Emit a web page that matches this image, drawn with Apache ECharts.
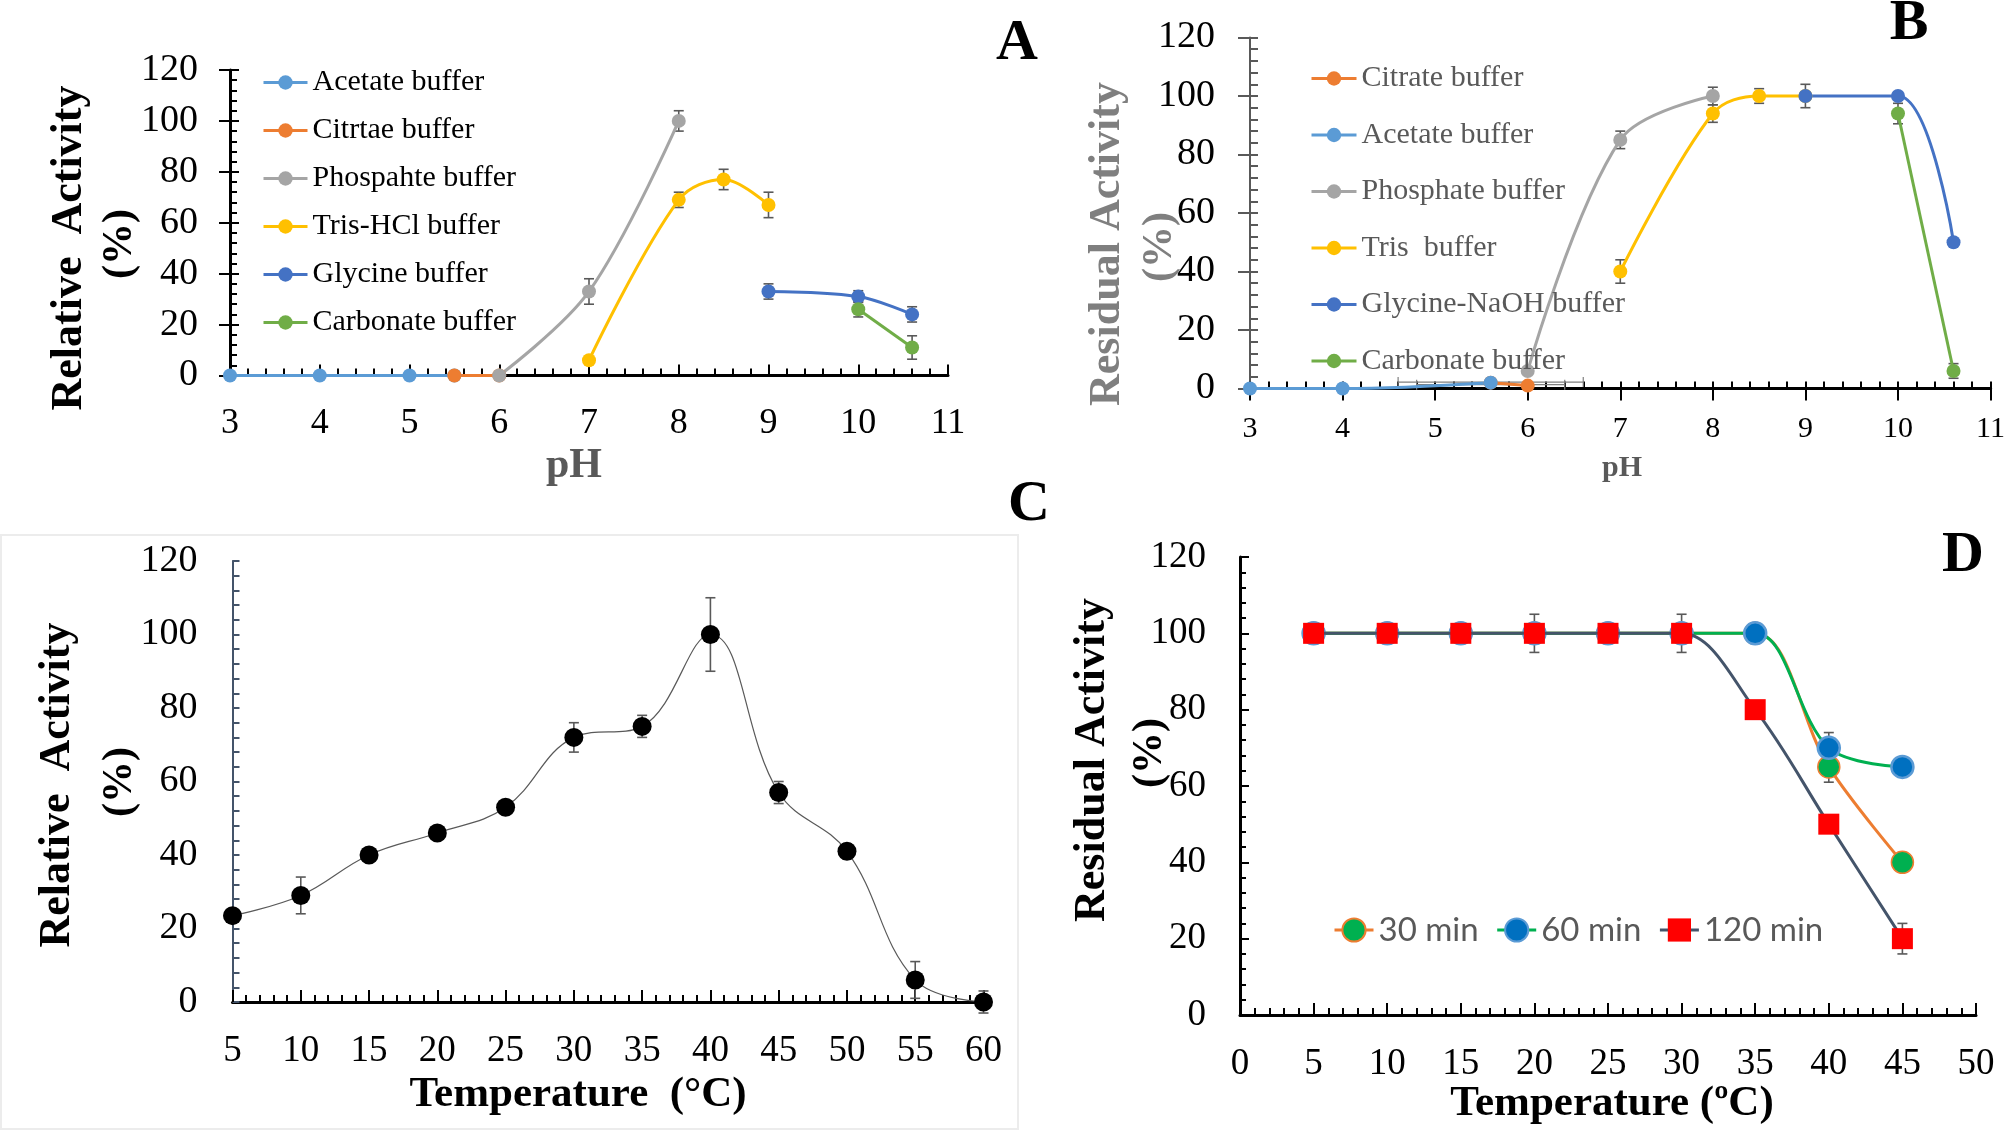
<!DOCTYPE html>
<html>
<head>
<meta charset="utf-8">
<script src="https://cdn.jsdelivr.net/npm/echarts@6/dist/echarts.min.js"></script>
<style>html,body{margin:0;padding:0;background:#fff;}#main{width:2008px;height:1132px;}</style>
</head>
<body>
<div id="main"></div>
<script>
// ---------- Panel A : pH optimum (Relative activity) ----------
const A_acetate_pH = [3, 4, 5, 5.5];
const A_acetate_act = [0, 0, 0, 0];
const A_citrate_pH = [5.5, 6];
const A_citrate_act = [0, 0];
const A_phosphate_pH = [6, 7, 8];
const A_phosphate_act = [0, 33, 100];
const A_phosphate_err = [0, 5, 4];
const A_tris_pH = [7, 8, 8.5, 9];
const A_tris_act = [6, 69, 77, 67];
const A_tris_err = [0, 3, 4, 5];
const A_glycine_pH = [9, 10, 10.6];
const A_glycine_act = [33, 31, 24];
const A_glycine_err = [3, 2.3, 3];
const A_carbonate_pH = [10, 10.6];
const A_carbonate_act = [26, 11];
const A_carbonate_err = [3, 4.6];
const A_legend = ['Acetate buffer', 'Citrtae buffer', 'Phospahte buffer', 'Tris-HCl buffer', 'Glycine buffer', 'Carbonate buffer'];

// ---------- Panel B : pH stability (Residual activity) ----------
const B_citrate_pH = [5.6, 6];
const B_citrate_act = [2, 1];
const B_acetate_pH = [3, 4, 5.6];
const B_acetate_act = [0, 0, 2];
const B_phosphate_pH = [6, 7, 8];
const B_phosphate_act = [6, 85, 100];
const B_phosphate_err = [0, 3, 3];
const B_tris_pH = [7, 8, 8.5, 9];
const B_tris_act = [40, 94, 100, 100];
const B_tris_err = [4, 3, 2.5, 0];
const B_glycine_pH = [9, 10, 10.6];
const B_glycine_act = [100, 100, 50];
const B_glycine_err = [4, 1, 0];
const B_carbonate_pH = [10, 10.6];
const B_carbonate_act = [94, 6];
const B_carbonate_err = [3.5, 2.5];
const B_hbar_pH = [5.6, 5.6];
const B_hbar_act = [2.2, 1.3];
const B_hbar_err = [1.0, 0.8];
const B_legend = ['Citrate buffer', 'Acetate buffer', 'Phosphate buffer', 'Tris  buffer', 'Glycine-NaOH buffer', 'Carbonate buffer'];

// ---------- Panel C : temperature optimum ----------
const C_temp = [5, 10, 15, 20, 25, 30, 35, 40, 45, 50, 55, 60];
const C_act = [23.5, 29, 40, 46, 53, 72, 75, 100, 57, 41, 6, 0];
const C_err = [0, 5, 0, 0, 0, 4, 3, 10, 3, 2, 5, 3];

// ---------- Panel D : thermal stability ----------
const D_temp = [5, 10, 15, 20, 25, 30, 35, 40, 45];
const D_30 = [100, 100, 100, 100, 100, 100, 100, 65, 40];
const D_60 = [100, 100, 100, 100, 100, 100, 100, 70, 65];
const D_120 = [100, 100, 100, 100, 100, 100, 80, 50, 20];
const D_30_err = [0, 0, 0, 0, 0, 0, 0, 4, 2.5];
const D_60_err = [0, 0, 0, 0, 0, 0, 2, 4, 1];
const D_120_err = [1.5, 1.5, 1.5, 5, 1.5, 5, 2, 1.5, 4];
const D_legend = ['30 min', '60 min', '120 min'];

const SERIF = 'Liberation Serif';
const pairs = (xs, ys) => xs.map((x, i) => [x, ys[i]]);
const triples = (xs, ys, es) => xs.map((x, i) => [x, ys[i], es[i]]);

function errSeries(xi, yi, data, color, cap) {
  return {
    type: 'custom', coordinateSystem: 'cartesian2d', xAxisIndex: xi, yAxisIndex: yi, z: 1, silent: true,
    data: data,
    renderItem: function (params, api) {
      const x = api.value(0), y = api.value(1), e = api.value(2);
      if (!e) return null;
      const t = api.coord([x, y + e]), b = api.coord([x, y - e]);
      const st = { stroke: color, lineWidth: 1.6 };
      return { type: 'group', children: [
        { type: 'line', shape: { x1: t[0], y1: t[1], x2: b[0], y2: b[1] }, style: st },
        { type: 'line', shape: { x1: t[0] - cap, y1: t[1], x2: t[0] + cap, y2: t[1] }, style: st },
        { type: 'line', shape: { x1: b[0] - cap, y1: b[1], x2: b[0] + cap, y2: b[1] }, style: st }
      ]};
    }
  };
}
function hErrSeries(xi, yi, data, color, cap) {
  return {
    type: 'custom', coordinateSystem: 'cartesian2d', xAxisIndex: xi, yAxisIndex: yi, z: 1, silent: true,
    data: data,
    renderItem: function (params, api) {
      const x = api.value(0), y = api.value(1), e = api.value(2);
      const l = api.coord([x - e, y]), r = api.coord([x + e, y]);
      const st = { stroke: color, lineWidth: 1.2 };
      return { type: 'group', children: [
        { type: 'line', shape: { x1: l[0], y1: l[1], x2: r[0], y2: r[1] }, style: st },
        { type: 'line', shape: { x1: l[0], y1: l[1] - cap, x2: l[0], y2: l[1] + cap }, style: st },
        { type: 'line', shape: { x1: r[0], y1: r[1] - cap, x2: r[0], y2: r[1] + cap }, style: st }
      ]};
    }
  };
}
function lineSeries(name, xi, yi, data, color, size, smooth, width) {
  return {
    name: name, type: 'line', xAxisIndex: xi, yAxisIndex: yi, data: data, z: 3,
    smooth: smooth, smoothConstraint: false, symbol: 'circle', symbolSize: size, clip: false,
    lineStyle: { color: color, width: width },
    itemStyle: { color: color },
    emphasis: { disabled: true }
  };
}

const colA = { acetate: '#5B9BD5', citrate: '#ED7D31', phosphate: '#A5A5A5', tris: '#FFC000', glycine: '#4472C4', carbonate: '#70AD47' };

const series = [
  // Panel A
  errSeries(0, 0, triples(A_phosphate_pH, A_phosphate_act, A_phosphate_err), '#595959', 5),
  errSeries(0, 0, triples(A_tris_pH, A_tris_act, A_tris_err), '#595959', 5),
  errSeries(0, 0, triples(A_glycine_pH, A_glycine_act, A_glycine_err), '#595959', 5),
  errSeries(0, 0, triples(A_carbonate_pH, A_carbonate_act, A_carbonate_err), '#595959', 5),
  lineSeries(A_legend[0] + '|A', 0, 0, pairs(A_acetate_pH, A_acetate_act), colA.acetate, 14, 0.35, 3),
  lineSeries(A_legend[1] + '|A', 0, 0, pairs(A_citrate_pH, A_citrate_act), colA.citrate, 14, 0.35, 3),
  lineSeries(A_legend[2] + '|A', 0, 0, pairs(A_phosphate_pH, A_phosphate_act), colA.phosphate, 14, 0.35, 3),
  lineSeries(A_legend[3] + '|A', 0, 0, pairs(A_tris_pH, A_tris_act), colA.tris, 14, 0.35, 3),
  lineSeries(A_legend[4] + '|A', 0, 0, pairs(A_glycine_pH, A_glycine_act), colA.glycine, 14, 0.35, 3),
  lineSeries(A_legend[5] + '|A', 0, 0, pairs(A_carbonate_pH, A_carbonate_act), colA.carbonate, 14, 0.35, 3),
  // Panel B
  hErrSeries(1, 2, triples(B_hbar_pH, B_hbar_act, B_hbar_err), '#7f7f7f', 5),
  errSeries(1, 2, triples(B_phosphate_pH, B_phosphate_act, B_phosphate_err), '#595959', 5),
  errSeries(1, 2, triples(B_tris_pH, B_tris_act, B_tris_err), '#595959', 5),
  errSeries(1, 2, triples(B_glycine_pH, B_glycine_act, B_glycine_err), '#595959', 5),
  errSeries(1, 2, triples(B_carbonate_pH, B_carbonate_act, B_carbonate_err), '#595959', 5),
  lineSeries(B_legend[0] + '|B', 1, 2, pairs(B_citrate_pH, B_citrate_act), colA.citrate, 14, 0.35, 3),
  lineSeries(B_legend[1] + '|B', 1, 2, pairs(B_acetate_pH, B_acetate_act), colA.acetate, 14, 0.35, 3),
  lineSeries(B_legend[2] + '|B', 1, 2, pairs(B_phosphate_pH, B_phosphate_act), colA.phosphate, 14, 0.35, 3),
  lineSeries(B_legend[3] + '|B', 1, 2, pairs(B_tris_pH, B_tris_act), colA.tris, 14, 0.35, 3),
  lineSeries(B_legend[4] + '|B', 1, 2, pairs(B_glycine_pH, B_glycine_act), colA.glycine, 14, 0.35, 3),
  lineSeries(B_legend[5] + '|B', 1, 2, pairs(B_carbonate_pH, B_carbonate_act), colA.carbonate, 14, 0.35, 3),
  // Panel C
  errSeries(3, 4, triples(C_temp, C_act, C_err), '#595959', 5),
  {
    name: 'Relative activity|C', type: 'line', xAxisIndex: 3, yAxisIndex: 4, z: 3, clip: false,
    data: pairs(C_temp, C_act), smooth: 0.4, symbol: 'circle', symbolSize: 19,
    lineStyle: { color: '#595959', width: 1.2 }, itemStyle: { color: '#000' }, emphasis: { disabled: true }
  },
  // Panel D
  errSeries(4, 5, triples(D_temp, D_30, D_30_err), '#595959', 5),
  errSeries(4, 5, triples(D_temp, D_60, D_60_err), '#595959', 5),
  errSeries(4, 5, triples(D_temp, D_120, D_120_err), '#595959', 5),
  {
    name: D_legend[0], type: 'line', xAxisIndex: 4, yAxisIndex: 5, z: 3, clip: false,
    data: pairs(D_temp, D_30), smooth: 0.35, smoothConstraint: false, symbol: 'circle', symbolSize: 22,
    lineStyle: { color: '#ED7D31', width: 3 },
    itemStyle: { color: '#00B050', borderColor: '#ED7D31', borderWidth: 1.5 }, emphasis: { disabled: true }
  },
  {
    name: D_legend[1], type: 'line', xAxisIndex: 4, yAxisIndex: 5, z: 4, clip: false,
    data: pairs(D_temp, D_60), smooth: 0.35, smoothConstraint: false, symbol: 'circle', symbolSize: 22,
    lineStyle: { color: '#00B050', width: 3 },
    itemStyle: { color: '#0070C0', borderColor: '#5B9BD5', borderWidth: 2.5 }, emphasis: { disabled: true }
  },
  {
    name: D_legend[2], type: 'line', xAxisIndex: 4, yAxisIndex: 5, z: 5, clip: false,
    data: pairs(D_temp, D_120), smooth: 0.35, smoothConstraint: false, symbol: 'rect', symbolSize: 21,
    lineStyle: { color: '#44546A', width: 3 },
    itemStyle: { color: '#FF0000' }, emphasis: { disabled: true }
  }
];

function axisCommon(o) {
  return Object.assign({ type: 'value', splitLine: { show: false } }, o);
}
const tickStyle = (c, w) => ({ color: c, width: w });

const xAxis = [
  axisCommon({ gridIndex: 0, position: 'bottom', min: 3, max: 11, interval: 1,
    axisLine: { onZero: false, lineStyle: { color: '#000', width: 3 } },
    axisTick: { inside: true, length: 11, lineStyle: tickStyle('#000', 2) },
    minorTick: { show: true, splitNumber: 5, length: 7, lineStyle: tickStyle('#000', 2) },
    axisLabel: { fontFamily: SERIF, fontSize: 36, color: '#000', margin: 30 } }),
  axisCommon({ gridIndex: 1, position: 'bottom', min: 3, max: 11, interval: 1,
    axisLine: { onZero: false, lineStyle: { color: '#000', width: 3 } },
    axisTick: { inside: true, length: 7, lineStyle: tickStyle('#000', 2) },
    minorTick: { show: true, splitNumber: 5, length: 7, lineStyle: tickStyle('#000', 2) },
    axisLabel: { fontFamily: SERIF, fontSize: 30, color: '#000', margin: 26 } }),
  axisCommon({ gridIndex: 1, position: 'bottom', min: 3, max: 11, interval: 1,
    axisLine: { show: false, onZero: false },
    axisTick: { inside: false, length: 12, lineStyle: tickStyle('#000', 2) },
    axisLabel: { show: false } }),
  axisCommon({ gridIndex: 2, position: 'bottom', min: 5, max: 60, interval: 5,
    axisLine: { onZero: false, lineStyle: { color: '#000', width: 3 } },
    axisTick: { inside: true, length: 12, lineStyle: tickStyle('#000', 2) },
    minorTick: { show: true, splitNumber: 5, length: 7, lineStyle: tickStyle('#000', 2) },
    axisLabel: { fontFamily: SERIF, fontSize: 37, color: '#000', margin: 31 } }),
  axisCommon({ gridIndex: 3, position: 'bottom', min: 0, max: 50, interval: 5,
    axisLine: { onZero: false, lineStyle: { color: '#000', width: 3 } },
    axisTick: { inside: true, length: 12, lineStyle: tickStyle('#000', 2) },
    minorTick: { show: true, splitNumber: 5, length: 7, lineStyle: tickStyle('#000', 2) },
    axisLabel: { fontFamily: SERIF, fontSize: 37, color: '#000', margin: 31 } })
];

const yAxis = [
  axisCommon({ gridIndex: 0, position: 'left', min: 0, max: 120, interval: 20,
    axisLine: { show: true, onZero: false, lineStyle: { color: '#000', width: 3 } },
    axisTick: { show: true, inside: true, length: 9, lineStyle: tickStyle('#000', 2) },
    minorTick: { show: true, splitNumber: 5, length: 7, lineStyle: tickStyle('#000', 2) },
    axisLabel: { fontFamily: SERIF, fontSize: 38, color: '#000', margin: 32 } }),
  axisCommon({ gridIndex: 0, position: 'left', min: 0, max: 120, interval: 20,
    axisLine: { show: false, onZero: false },
    axisTick: { show: true, inside: false, length: 11, lineStyle: tickStyle('#000', 2) },
    axisLabel: { show: false } }),
  axisCommon({ gridIndex: 1, position: 'left', min: 0, max: 120, interval: 20,
    axisLine: { show: true, onZero: false, lineStyle: { color: '#595959', width: 2 } },
    axisTick: { show: true, inside: true, length: 8, lineStyle: tickStyle('#595959', 2) },
    minorTick: { show: true, splitNumber: 5, length: 8, lineStyle: tickStyle('#595959', 2) },
    axisLabel: { fontFamily: SERIF, fontSize: 38, color: '#000', margin: 35 } }),
  axisCommon({ gridIndex: 1, position: 'left', min: 0, max: 120, interval: 20,
    axisLine: { show: false, onZero: false },
    axisTick: { show: true, inside: false, length: 12, lineStyle: tickStyle('#595959', 2) },
    axisLabel: { show: false } }),
  axisCommon({ gridIndex: 2, position: 'left', min: 0, max: 120, interval: 20,
    axisLine: { show: true, onZero: false, lineStyle: { color: '#44546A', width: 2 } },
    axisTick: { show: true, inside: true, length: 7, lineStyle: tickStyle('#44546A', 2) },
    minorTick: { show: true, splitNumber: 5, length: 7, lineStyle: tickStyle('#44546A', 2) },
    axisLabel: { fontFamily: SERIF, fontSize: 38, color: '#000', margin: 35 } }),
  axisCommon({ gridIndex: 3, position: 'left', min: 0, max: 120, interval: 20,
    axisLine: { show: true, onZero: false, lineStyle: { color: '#000', width: 3 } },
    axisTick: { show: true, inside: true, length: 9, lineStyle: tickStyle('#000', 2) },
    minorTick: { show: true, splitNumber: 5, length: 6, lineStyle: tickStyle('#000', 2) },
    axisLabel: { fontFamily: SERIF, fontSize: 37, color: '#000', margin: 34 } })
];

const grid = [
  { left: 230, top: 70, width: 718, height: 305.5 },
  { left: 1250, top: 37.5, width: 744, height: 351 },
  { left: 232.5, top: 561, width: 751, height: 441 },
  { left: 1240, top: 557, width: 736, height: 458 }
];

const stripName = n => n.split('|')[0];
const legend = [
  { data: A_legend.map(n => n + '|A'), orient: 'vertical', left: 262, top: 65, padding: 0,
    itemWidth: 44, itemHeight: 18, itemGap: 13, selectedMode: false, formatter: stripName,
    lineStyle: { width: 3 },
    textStyle: { fontFamily: SERIF, fontSize: 30, color: '#000', lineHeight: 35 } },
  { data: B_legend.map(n => n + '|B'), orient: 'vertical', left: 1310, top: 61, padding: 0,
    itemWidth: 45, itemHeight: 18, itemGap: 21.5, selectedMode: false, formatter: stripName,
    lineStyle: { width: 3 },
    textStyle: { fontFamily: SERIF, fontSize: 30, color: '#595959', lineHeight: 35 } },
  { data: D_legend, orient: 'horizontal', left: 1333, top: 911, padding: 0,
    itemWidth: 39, itemHeight: 29, itemGap: 17, selectedMode: false,
    lineStyle: { width: 3 },
    textStyle: { fontFamily: 'Lato', fontSize: 33, color: '#595959', lineHeight: 38 } }
];

function txt(text, x, y, size, color, rot, family) {
  return {
    type: 'text', x: x, y: y, rotation: rot || 0, z: 10, silent: true,
    style: { text: text, fontFamily: family || SERIF, fontSize: size, fontWeight: 'bold', fill: color,
      align: 'center', verticalAlign: 'middle', textAlign: 'center', textVerticalAlign: 'middle' }
  };
}
const R = Math.PI / 2;
const graphic = [
  { type: 'rect', shape: { x: 1, y: 535, width: 1017, height: 594 }, z: -1, silent: true,
    style: { fill: 'none', stroke: '#ececec', lineWidth: 2 } },
  txt('Relative  Activity', 70, 248, 44, '#000', R),
  txt('(%)', 120, 244, 42, '#000', R),
  txt('pH', 574, 466, 42, '#595959'),
  txt('A', 1017, 44, 58, '#000'),
  txt('Residual Activity', 1108, 244, 44, '#7f7f7f', R),
  txt('(%)', 1160, 247, 42, '#7f7f7f', R),
  txt('pH', 1622, 468, 30, '#595959'),
  txt('B', 1909, 24, 58, '#000'),
  txt('Relative  Activity', 58, 785, 44, '#000', R),
  txt('(%)', 120, 782, 42, '#000', R),
  txt('Temperature  (°C)', 578, 1095, 43, '#000'),
  txt('C', 1029, 505, 58, '#000'),
  txt('Residual Activity', 1093, 760, 44, '#000', R),
  txt('(%)', 1150, 753, 42, '#000', R),
  txt('Temperature (ºC)', 1612, 1104, 43, '#000'),
  txt('D', 1963, 556, 58, '#000')
];

const chart = echarts.init(document.getElementById('main'), null, { renderer: 'canvas' });
chart.setOption({
  backgroundColor: '#fff',
  animation: false,
  grid: grid, xAxis: xAxis, yAxis: yAxis, legend: legend, series: series, graphic: graphic
});
</script>
</body>
</html>
